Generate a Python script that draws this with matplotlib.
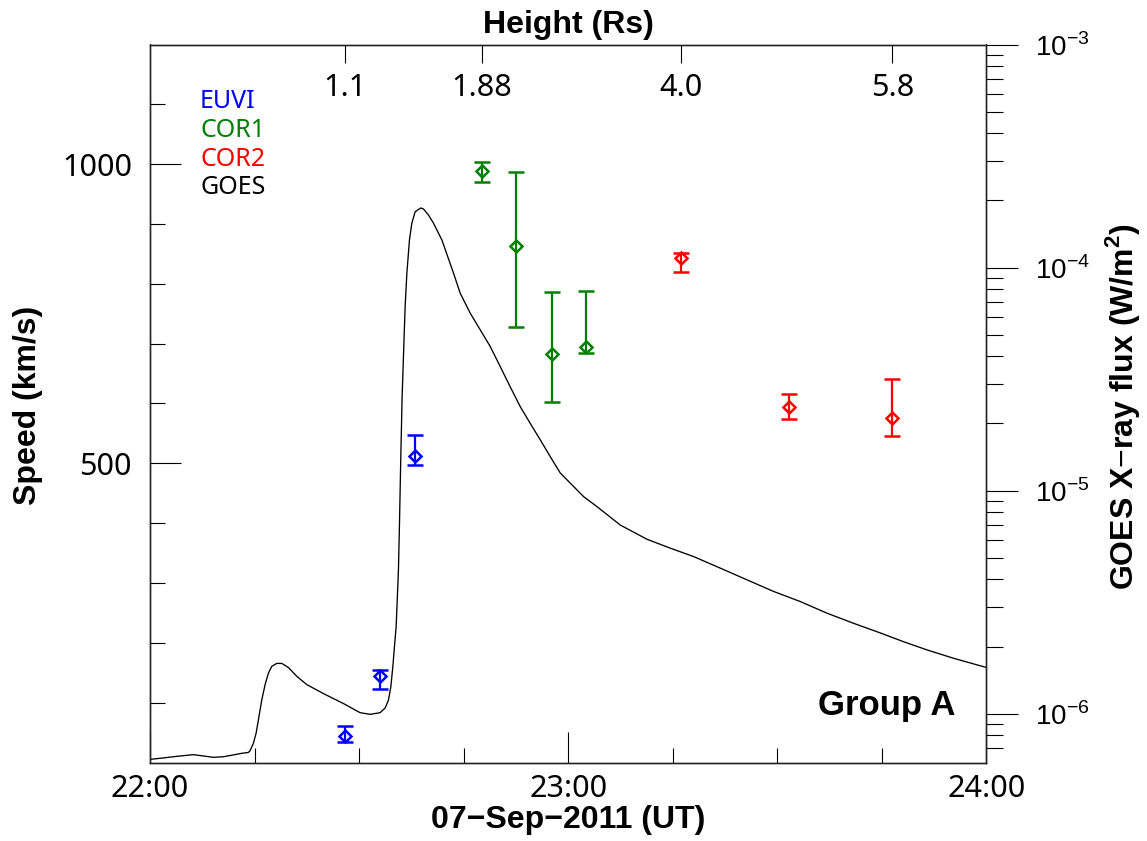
import matplotlib
matplotlib.use("Agg")
import matplotlib.pyplot as plt
import numpy as np
from matplotlib.ticker import FixedLocator, NullFormatter

plt.rcParams['mathtext.fontset'] = 'custom'
plt.rcParams['mathtext.rm'] = 'Liberation Sans'
plt.rcParams['mathtext.bf'] = 'Liberation Sans:bold'

W, H = 1147, 841

# ---- data (time = minutes after 22:00 UT on 07-Sep-2011) ----
euvi_t = [28.0, 33.0, 38.0]
euvi_v = [44, 144, 513]
euvi_lo = [35, 123, 497]
euvi_hi = [61, 154, 547]

cor1_t = [47.6, 52.5, 57.6, 62.5]
cor1_v = [989, 863, 682, 694]
cor1_lo = [970, 728, 602, 684]
cor1_hi = [1003, 987, 786, 788]

cor2_t = [76.2, 91.6, 106.5]
cor2_v = [843, 594, 576]
cor2_lo = [819, 574, 546]
cor2_hi = [852, 616, 641]

height_t = [28.0, 47.6, 76.2, 106.5]
height_lbl = ["1.1", "1.88", "4.0", "5.8"]

goes_t = [0.24, 1.91, 3.35, 4.78, 6.22, 7.66, 9.09, 10.53, 11.96, 13.16, 14.11,
          14.35, 14.83, 15.22, 15.55, 16.03, 16.51, 16.99, 17.47, 18.19, 18.90,
          19.86, 21.06, 22.49, 24.88, 27.75, 30.14, 31.58, 33.01, 33.73, 34.21,
          34.55, 34.84, 35.07, 35.31, 35.64, 35.79, 35.98, 36.17, 36.36, 36.60,
          36.85, 37.22, 37.56, 38.04, 38.85, 39.23, 39.95, 40.67, 41.87, 43.54,
          44.50, 45.93, 47.37, 48.80, 50.24, 51.67, 53.11, 54.55, 55.98, 57.42,
          58.85, 60.29, 62.20, 64.11, 67.46, 71.30, 74.64, 77.99, 81.82, 85.65,
          89.47, 93.30, 97.13, 100.95, 104.78, 108.13, 111.49, 115.31, 120.0]
goes_flux = [6.25e-7, 6.33e-7, 6.41e-7, 6.48e-7, 6.55e-7, 6.46e-7, 6.37e-7,
             6.41e-7, 6.53e-7, 6.64e-7, 6.70e-7,
             6.82e-7, 7.36e-7, 8.17e-7, 9.38e-7, 1.15e-6, 1.35e-6, 1.52e-6,
             1.63e-6, 1.68e-6, 1.68e-6,
             1.61e-6, 1.47e-6, 1.35e-6, 1.23e-6, 1.11e-6, 1.01e-6, 9.93e-7,
             1.01e-6, 1.06e-6, 1.15e-6,
             1.32e-6, 1.63e-6, 2.00e-6, 2.45e-6, 4.41e-6, 7.14e-6, 1.42e-5,
             2.64e-5, 3.99e-5, 6.68e-5,
             9.44e-5, 1.33e-4, 1.58e-4, 1.78e-4, 1.85e-4, 1.83e-4, 1.72e-4,
             1.58e-4, 1.33e-4, 9.44e-5,
             7.67e-5, 6.25e-5, 5.26e-5, 4.43e-5, 3.60e-5, 2.92e-5, 2.38e-5,
             2.00e-5, 1.69e-5, 1.42e-5,
             1.20e-5, 1.08e-5, 9.40e-6, 8.48e-6, 7.01e-6, 6.05e-6, 5.52e-6,
             5.06e-6, 4.49e-6, 3.98e-6,
             3.53e-6, 3.18e-6, 2.82e-6, 2.54e-6, 2.30e-6, 2.10e-6, 1.93e-6,
             1.77e-6, 1.61e-6]

legend_names = ["EUVI", "COR1", "COR2", "GOES"]
legend_colors = ["#0000ff", "#008000", "#ff0000", "#000000"]


def fx(x):
    return x / W


def fy(y):
    return 1 - y / H


fig = plt.figure(figsize=(W / 100, H / 100), dpi=100)
ax = fig.add_axes([fx(150), fy(762.5), fx(836.5), 718 / H])
ax2 = ax.twinx()
ax3 = ax.twiny()

# GOES curve on log axis
ax2.plot(goes_t, goes_flux, color="black", lw=0.95, zorder=2)
ax2.set_yscale("log")
ax2.set_ylim(10 ** -6.219, 1e-3)
ax2.yaxis.set_major_locator(FixedLocator([1e-6, 1e-5, 1e-4, 1e-3]))
ax2.set_yticklabels([r"10$^{-6}$", r"10$^{-5}$", r"10$^{-4}$", r"10$^{-3}$"])
minors = [m * 10.0 ** e for e in (-7, -6, -5, -4) for m in range(2, 10)]
ax2.yaxis.set_minor_locator(FixedLocator(minors))
ax2.yaxis.set_minor_formatter(NullFormatter())
ax2.tick_params(axis="y", which="major", direction="out", length=23, width=0.8,
                pad=12, labelsize=20, labelfontfamily="Liberation Sans")
ax2.tick_params(axis="y", which="minor", direction="out", length=12, width=0.8)

# speed points
for t, v, lo, hi, c in [(euvi_t, euvi_v, euvi_lo, euvi_hi, legend_colors[0]),
                        (cor1_t, cor1_v, cor1_lo, cor1_hi, legend_colors[1]),
                        (cor2_t, cor2_v, cor2_lo, cor2_hi, legend_colors[2])]:
    v = np.array(v)
    err = [v - np.array(lo), np.array(hi) - v]
    ax3.errorbar(t, v, yerr=err, fmt="D", ms=6, mfc="none", mec=c, mew=1.8,
                 ecolor=c, elinewidth=1.6, capsize=6, capthick=1.6, zorder=3)

ax.set_xlim(0, 120)
ax.set_ylim(0, 1200)
ax3.set_ylim(0, 1200)
ax.set_xticks([0, 60, 120])
ax.set_xticklabels(["22:00", "23:00", "24:00"])
ax.set_xticks([15, 30, 45, 75, 90, 105], minor=True)
ax.set_yticks([500, 1000])
ax.set_yticks([100, 200, 300, 400, 600, 700, 800, 900, 1100], minor=True)
ax.tick_params(axis="x", which="major", direction="in", length=22, width=0.8,
               pad=8, labelsize=22, labelfontfamily="Noto Sans")
ax.tick_params(axis="x", which="minor", direction="in", length=11, width=0.8)
ax.tick_params(axis="y", which="major", direction="in", length=22, width=0.8,
               pad=13, labelsize=22, labelfontfamily="Noto Sans")
ax.tick_params(axis="y", which="minor", direction="in", length=11, width=0.8)

ax3.set_xlim(0, 120)
ax3.set_xticks(height_t)
ax3.set_xticklabels(height_lbl)
ax3.tick_params(axis="x", direction="in", length=13, width=0.8, pad=-42,
                labelsize=22, labelfontfamily="Noto Sans")

for a in (ax, ax2, ax3):
    for s in a.spines.values():
        s.set_linewidth(0.9)
        s.set_color("#222222")

# axis titles
bold = dict(family="Liberation Sans", weight="bold", fontsize=23)
fig.text(fx(568), fy(25), "Height (Rs)", ha="center", va="center", **bold)
fig.text(fx(568), fy(820), "07\u2212Sep\u22122011 (UT)", ha="center", va="center", **bold)
fig.text(fx(28), fy(405), "Speed (km/s)", ha="center", va="center", rotation=90, **bold)
fig.text(fx(1123), fy(406), r"GOES X$-$ray flux (W/m$^\mathbf{2}$)", ha="center",
         va="center", rotation=90, **bold)
fig.text(fx(887), fy(705), "Group A", ha="center", va="center",
         family="Liberation Sans", weight="bold", fontsize=25)

for i, (name, c) in enumerate(zip(legend_names, legend_colors)):
    fig.text(fx(200), fy(102 + 28.5 * i), name, color=c, ha="left", va="center",
             family="Noto Sans", fontsize=18)

fig.savefig("out.png", dpi=100)
